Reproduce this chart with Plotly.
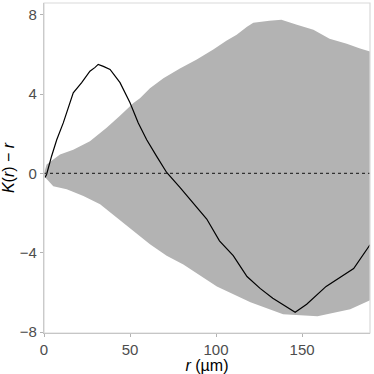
import plotly.graph_objects as go

# Envelope upper bound
env_r_upper = [0, 1.5, 9.3, 17, 26.7, 36.4, 44, 52, 55.8, 61.6, 69.4, 79, 88.8, 98.4, 106,
               112, 118, 121.7, 131, 138, 147, 156.6, 166, 176, 183.7, 189.5]
env_upper = [0.0, 0.45, 0.95, 1.2, 1.63, 2.3, 2.9, 3.55, 3.8, 4.3, 4.8, 5.3, 5.75, 6.25, 6.7,
             7.0, 7.4, 7.6, 7.7, 7.75, 7.5, 7.25, 6.8, 6.55, 6.3, 6.15]

# Envelope lower bound
env_r_lower = [0, 5.4, 13.2, 22.9, 32.6, 42.3, 52, 61.6, 71.3, 81, 100.5, 120, 139, 159,
               178, 189.5]
env_lower = [-0.13, -0.64, -0.8, -1.14, -1.56, -2.2, -2.9, -3.57, -4.15, -4.6, -5.7, -6.5,
             -7.1, -7.2, -6.85, -6.4]

# Observed K(r) - r
obs_r = [0.6, 1.5, 4.4, 7.4, 11.2, 17, 21.9, 26.7, 29.7, 31.5, 34.5, 38.4, 44.2, 50, 54.8,
         59.7, 65.5, 71.3, 79, 85, 94.6, 102, 110, 118, 125.6, 133, 140, 146, 152.7, 164,
         180, 189.5]
obs_k = [-0.2, -0.05, 0.87, 1.7, 2.55, 4.07, 4.58, 5.16, 5.35, 5.5, 5.4, 5.25, 4.58, 3.57,
         2.55, 1.7, 0.86, 0.05, -0.7, -1.3, -2.3, -3.4, -4.15, -5.2, -5.8, -6.3, -6.7, -7.0,
         -6.6, -5.7, -4.8, -3.6]

grey_fill = "#b3b3b3"
tick_col = "#4d4d4d"

fig = go.Figure()

# Envelope polygon: upper forward, lower reversed
fig.add_trace(go.Scatter(
    x=env_r_upper + env_r_lower[::-1],
    y=env_upper + env_lower[::-1],
    fill="toself",
    fillcolor=grey_fill,
    line=dict(width=0, color=grey_fill),
    mode="lines",
    hoverinfo="skip",
    showlegend=False
))

fig.add_trace(go.Scatter(
    x=obs_r,
    y=obs_k,
    mode="lines",
    line=dict(color="black", width=1.2),
    showlegend=False
))

fig.add_hline(y=0, line=dict(color="#333333", width=1.2, dash="dot"))

# light panel border on top / right
fig.add_shape(type="rect", xref="paper", yref="paper", x0=0, y0=0, x1=1, y1=1,
              line=dict(color="#d9d9d9", width=1.2))

fig.update_layout(
    width=374,
    height=374,
    margin=dict(l=44, r=4, t=3, b=41, autoexpand=False),
    plot_bgcolor="white",
    paper_bgcolor="white",
    font=dict(family="Liberation Sans, Arial, sans-serif", size=14, color=tick_col),
    xaxis=dict(
        range=[0, 189.5],
        tickvals=[0, 50, 100, 150],
        showgrid=False,
        zeroline=False,
        showline=True,
        linecolor="#b3b3b3",
        linewidth=1.2,
        ticks="outside",
        ticklen=3,
        tickcolor="#b3b3b3",
        tickfont=dict(size=15, color=tick_col),
        title=dict(text="<i>r</i> (µm)", font=dict(size=16, color="black"), standoff=2),
    ),
    yaxis=dict(
        range=[-8.05, 8.6],
        tickvals=[-8, -4, 0, 4, 8],
        ticktext=["−8", "−4", "0", "4", "8"],
        showgrid=False,
        zeroline=False,
        showline=True,
        linecolor="#b3b3b3",
        linewidth=1.2,
        ticks="outside",
        ticklen=3,
        tickcolor="#b3b3b3",
        tickfont=dict(size=15, color=tick_col),
        title=dict(text="<i>K</i>(<i>r</i>) − <i>r</i>", font=dict(size=16, color="black"),
                   standoff=4),
    ),
)

fig.write_html("out.html", config={"displayModeBar": False},
               post_script="document.body.style.margin='0';")
